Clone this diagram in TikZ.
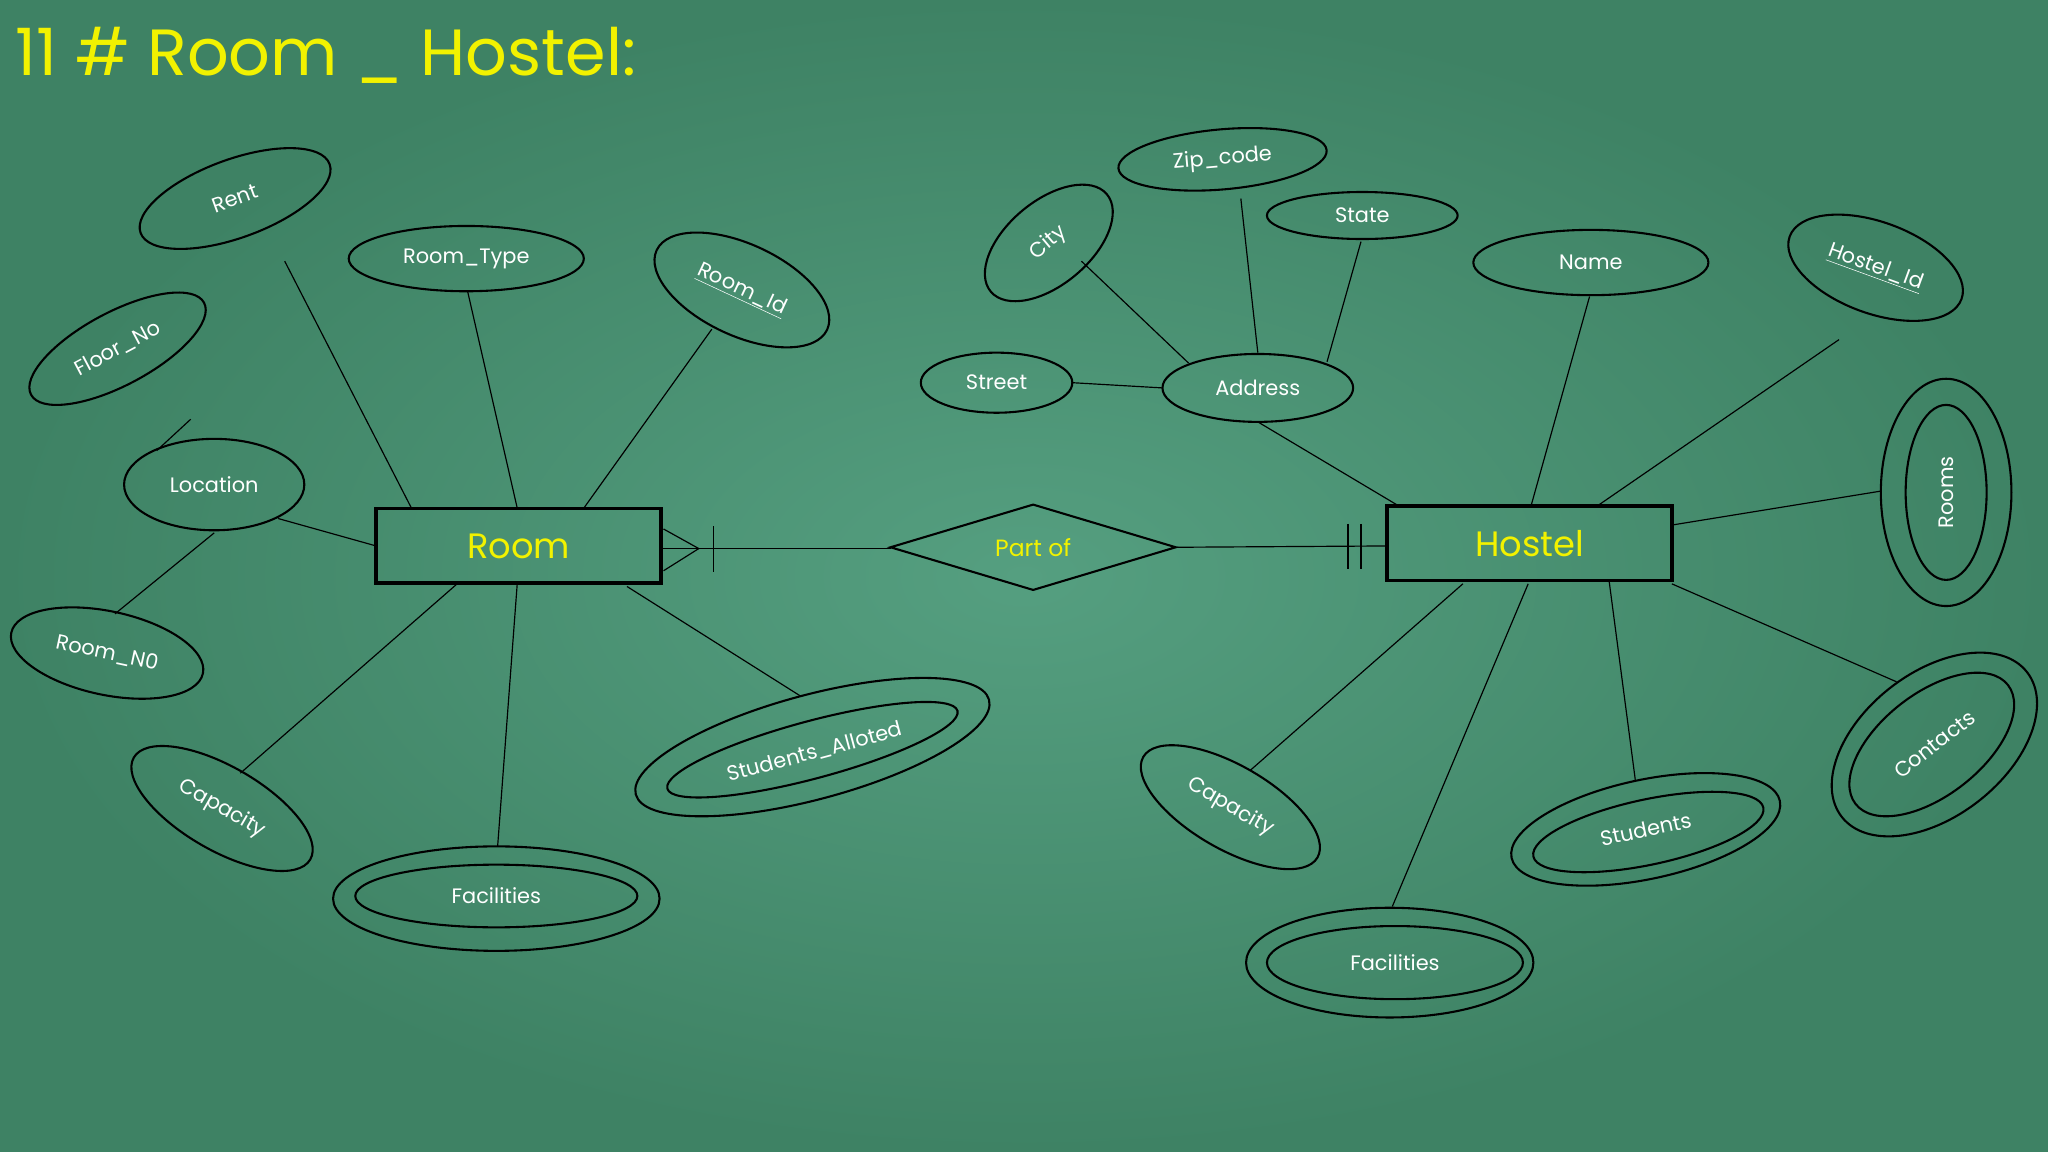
\documentclass[tikz,border=0pt]{standalone}
\usepackage{fontspec}
\setmainfont{Poppins}
\usetikzlibrary{shapes.geometric}
\definecolor{bgi}{HTML}{559F80}
\definecolor{bgo}{HTML}{3E8264}
\definecolor{yel}{HTML}{F2F200}
\tikzset{
 attr/.style={draw=black,line width=1.6pt,ellipse,inner sep=0pt,text=white,font=\fontsize{16}{18}\selectfont},
 inner/.style={draw=black,line width=1.6pt,ellipse,inner sep=0pt},
 ent/.style={draw=black,line width=2.6pt,minimum width=218pt,minimum height=57pt,text=yel,font=\fontsize{27}{30}\selectfont},
 ln/.style={black,line width=0.9pt}
}
\begin{document}
\begin{tikzpicture}[x=1pt,y=-1pt]
\useasboundingbox (0,0) rectangle (1568,882);
\fill[inner color=bgi,outer color=bgo] (0,0) rectangle (1568,882);
\node[anchor=base west,text=yel,font=\fontsize{50}{54}\selectfont,inner sep=0pt] (title) at (12,58) {11 \# Room \_ Hostel:};
% entities
\node[ent] (room) at (397,418) {Room};
\node[ent] (hostel) at (1171,416) {Hostel};
\node[draw=black,line width=1.6pt,diamond,aspect=3.3,minimum width=219pt,minimum height=66pt,inner sep=0pt,text=yel,font=\fontsize{18}{20}\selectfont] (rel) at (791,419) {Part of};
% room attributes
\node[attr,rotate=20,minimum width=154pt,minimum height=60pt] (rent) at (180,152) {Rent};
\node[attr,rotate=28,minimum width=150pt,minimum height=56pt] (floor) at (90,267) {Floor\_No};
\node[attr,minimum width=180pt,minimum height=50pt] (rtype) at (357,198) {Room\_Type};
\node[attr,rotate=-25,minimum width=144pt,minimum height=70pt] (rid) at (568,222) {\underline{Room\_Id}};
\node[attr,minimum width=138pt,minimum height=70pt] (loc) at (164,371) {Location};
\node[attr,rotate=-12,minimum width=150pt,minimum height=64pt] (rno) at (82,500) {Room\_N0};
\node[attr,rotate=-30,minimum width=156pt,minimum height=64pt] (cap1) at (170,619) {Capacity};
\node[attr,minimum width=250pt,minimum height=80pt] (fac1) at (380,688) {};
\node[inner,minimum width=216pt,minimum height=48pt] (fac1i) at (380,686) {};
\node[text=white,font=\fontsize{16}{18}\selectfont] (fac1t) at (380,686) {Facilities};
\node[attr,rotate=15,minimum width=280pt,minimum height=80pt] (sa) at (622,572) {};
\node[inner,rotate=15,minimum width=230pt,minimum height=44pt] (sai) at (622,574) {};
\node[text=white,rotate=15,font=\fontsize{16}{18}\selectfont] (sat) at (624,576) {Students\_Alloted};
% hostel attributes
\node[attr,rotate=5,minimum width=160pt,minimum height=46pt] (zip) at (936,122) {Zip\_code};
\node[attr,minimum width=146pt,minimum height=36pt] (state) at (1043,165) {State};
\node[attr,rotate=40,minimum width=116pt,minimum height=64pt] (city) at (803,186) {City};
\node[attr,minimum width=116pt,minimum height=46pt] (street) at (763,293) {Street};
\node[attr,minimum width=146pt,minimum height=52pt] (addr) at (963,297) {Address};
\node[attr,minimum width=180pt,minimum height=50pt] (name) at (1218,201) {Name};
\node[attr,rotate=-20,minimum width=140pt,minimum height=70pt] (hid) at (1436,205) {\underline{Hostel\_Id}};
\node[attr,minimum width=100pt,minimum height=174pt] (rooms) at (1490,377) {};
\node[inner,minimum width=62pt,minimum height=134pt] (roomsi) at (1490,377) {};
\node[text=white,rotate=90,font=\fontsize{16}{18}\selectfont] (roomst) at (1490,377) {Rooms};
\node[attr,rotate=38,minimum width=180pt,minimum height=110pt] (con) at (1481,570) {};
\node[inner,rotate=38,minimum width=148pt,minimum height=78pt] (coni) at (1479,570) {};
\node[text=white,rotate=38,font=\fontsize{16}{18}\selectfont] (cont) at (1481,570) {Contacts};
\node[attr,rotate=-30,minimum width=154pt,minimum height=64pt] (cap2) at (942,618) {Capacity};
\node[attr,rotate=12,minimum width=210pt,minimum height=76pt] (stu) at (1260,635) {};
\node[inner,rotate=12,minimum width=180pt,minimum height=50pt] (stui) at (1262,637) {};
\node[text=white,rotate=12,font=\fontsize{16}{18}\selectfont] (stut) at (1260,635) {Students};
\node[attr,minimum width=220pt,minimum height=84pt] (fac2) at (1064,737) {};
\node[inner,minimum width=196pt,minimum height=56pt] (fac2i) at (1068,737) {};
\node[text=white,font=\fontsize{16}{18}\selectfont] (fac2t) at (1068,737) {Facilities};
% free coordinates
\coordinate (a1) at (218,200); \coordinate (a2) at (315,389);
\coordinate (b1) at (358,223); \coordinate (b2) at (396,389);
\coordinate (c1) at (545,252); \coordinate (c2) at (447,389);
\coordinate (d1) at (213,397); \coordinate (d2) at (288,418);
\coordinate (s1) at (120,345); \coordinate (s2) at (146,321);
\coordinate (e1) at (88,470); \coordinate (e2) at (164,408);
\coordinate (f1) at (184,592); \coordinate (f2) at (350,447);
\coordinate (g1) at (381,648); \coordinate (g2) at (396,447);
\coordinate (h1) at (613,533); \coordinate (h2) at (480,449);
\coordinate (r1) at (506,420); \coordinate (rl) at (682,420);
\coordinate (rr) at (901,419); \coordinate (h0) at (1062,418);
\coordinate (cf1) at (508,405); \coordinate (cf2) at (508,437); \coordinate (cfm) at (535,420);
\draw[ln] (a1)--(a2); \draw[ln] (b1)--(b2); \draw[ln] (c1)--(c2); \draw[ln] (d1)--(d2);
\draw[ln] (s1)--(s2); \draw[ln] (e1)--(e2); \draw[ln] (f1)--(f2); \draw[ln] (g1)--(g2); \draw[ln] (h1)--(h2);
\draw[ln] (r1)--(rl); \draw[ln] (rr)--(h0);
\draw[ln] (cf1)--(cfm)--(cf2);
\draw[ln] (546,403)--(546,438);
\draw[ln] (1032,401)--(1032,436); \draw[ln] (1042,401)--(1042,436);
\coordinate (i1) at (828,200); \coordinate (i2) at (910,278);
\coordinate (j1) at (950,152); \coordinate (j2) at (963,270);
\coordinate (k1) at (1042,185); \coordinate (k2) at (1016,277);
\coordinate (l1) at (821,293); \coordinate (l2) at (890,297);
\coordinate (m1) at (963,323); \coordinate (m2) at (1072,388);
\coordinate (n1) at (1217,227); \coordinate (n2) at (1172,388);
\coordinate (o1) at (1408,260); \coordinate (o2) at (1222,388);
\coordinate (p1) at (1280,402); \coordinate (p2) at (1440,376);
\coordinate (q1) at (1280,447); \coordinate (q2) at (1452,522);
\coordinate (t1) at (1232,445); \coordinate (t2) at (1252,597);
\coordinate (u1) at (1170,447); \coordinate (u2) at (1066,694);
\coordinate (v1) at (1120,447); \coordinate (v2) at (957,590);
\foreach \x/\y in {i1/i2,j1/j2,k1/k2,l1/l2,m1/m2,n1/n2,o1/o2,p1/p2,q1/q2,t1/t2,u1/u2,v1/v2}
  \draw[ln] (\x)--(\y);
\end{tikzpicture}
\end{document}
